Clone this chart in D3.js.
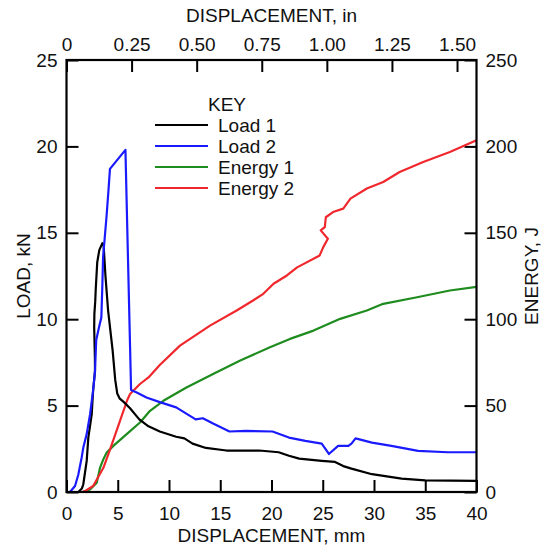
<!DOCTYPE html>
<html>
<head>
<meta charset="utf-8">
<script src="https://cdn.jsdelivr.net/npm/d3@7"></script>
<style>
  html, body { margin: 0; padding: 0; background: #fff; }
  svg text { font-family: "Liberation Sans", Arial, Helvetica, sans-serif; fill: #111; }
</style>
</head>
<body>
<svg id="chart" width="545" height="554"></svg>
<script>
// ---------- data ----------
const seriesNames = ["Load 1", "Load 2", "Energy 1", "Energy 2"];
const seriesColors = ["#000000", "#1a1aff", "#1e8c1e", "#f0282d"];

// [displacement mm, load kN]
const load1 = [[1.15,0],[1.5,0.2],[1.64,0.45],[1.97,1.8],[2.13,3.15],[2.46,4.5],[2.6,5.9],[2.78,7.0],[2.77,7.8],[2.7,9.5],[2.72,10.3],[2.8,11.0],[2.85,11.7],[3.0,13.3],[3.2,14.0],[3.5,14.4],[3.62,14.3],[3.8,12.5],[4.06,10.5],[4.5,8.2],[4.75,6.5],[4.95,5.7],[5.2,5.4],[5.6,5.2],[6.2,4.85],[7.1,4.2],[8.0,3.8],[9.1,3.5],[10.7,3.2],[11.5,3.1],[12.3,2.8],[13.6,2.55],[15.6,2.4],[18.8,2.4],[20.7,2.3],[21.7,2.1],[22.7,1.93],[24.9,1.8],[26.2,1.74],[27.0,1.5],[27.8,1.35],[29.8,1.03],[32.7,0.77],[35,0.67],[40,0.64]];
const load2 = [[0.34,0],[0.83,0.35],[1.15,1.0],[1.48,2.0],[1.64,2.57],[1.97,3.35],[2.3,4.5],[2.6,5.9],[2.78,7.0],[2.9,8.8],[3.2,9.6],[3.4,10.1],[3.5,12.0],[3.57,13.6],[3.9,15.9],[4.1,17.5],[4.24,18.7],[5.75,19.8],[6.3,5.9],[6.85,5.76],[7.8,5.47],[9.1,5.2],[10.7,4.9],[12.6,4.2],[13.3,4.27],[14.3,3.96],[15.9,3.5],[17.5,3.54],[20.1,3.5],[21.7,3.15],[23.3,2.96],[24.9,2.8],[25.6,2.2],[26.5,2.67],[27.5,2.67],[27.8,2.8],[28.2,3.1],[29.8,2.86],[31.7,2.67],[34.3,2.38],[37.2,2.3],[40,2.3]];
// [displacement mm, energy J]
const energy1 = [[1.6,0],[2.3,1.5],[2.95,5.4],[3.27,14],[3.6,19],[3.92,22.8],[4.57,26.7],[5.87,33.5],[7.17,40.2],[8.15,47],[9.45,52.8],[11.7,60.5],[14.3,68.3],[16.9,76],[19.85,83.7],[21.8,88.6],[24.1,93.4],[26.7,100.2],[29.3,105],[30.9,108.9],[34.2,112.7],[37.4,116.6],[40,118.7]];
const energy2 = [[1.5,0],[1.8,0.5],[2.6,3.5],[3.6,14],[4.2,23.8],[5.05,38.3],[5.9,52.8],[6.2,56.7],[7.17,62.5],[8.0,66.3],[9.1,73.5],[11.07,84.7],[14.0,96.3],[16.6,105],[18.2,110.8],[19.2,114.7],[20.2,120.5],[21.5,125.3],[22.5,130],[24.7,136.9],[25.05,141.7],[25.5,146.6],[24.8,151.4],[25.2,153.3],[25.3,159],[26.0,162],[27.0,164],[27.7,169.8],[29.3,175.6],[30.9,179.4],[32.5,185.2],[34.8,191],[37.4,196.8],[40,203.6]];

const mmTicks = [0,5,10,15,20,25,30,35,40];
const inTicks = [0,0.25,0.5,0.75,1.0,1.25,1.5];
const loadTicks = [0,5,10,15,20,25];
const energyTicks = [0,50,100,150,200,250];

// ---------- layout ----------
const L = 66.5, R = 476.5, T = 60, B = 492;
const svg = d3.select("#chart");

const x = d3.scaleLinear().domain([0,40]).range([L,R]);
const xIn = d3.scaleLinear().domain([0,40/25.4]).range([L,R]);
const yL = d3.scaleLinear().domain([0,25]).range([B,T]);
const yE = d3.scaleLinear().domain([0,250]).range([B,T]);

const fs = 19;
function styleAxis(g){
  g.select(".domain").remove();
  g.selectAll(".tick line").attr("stroke","#000").attr("stroke-width",2);
  g.selectAll(".tick text").attr("font-size",fs).attr("fill","#111")
    .attr("font-family",'"Liberation Sans", Arial, sans-serif');
}

svg.append("g").attr("transform",`translate(0,${B})`)
  .call(d3.axisBottom(x).tickValues(mmTicks).tickSize(-12).tickPadding(15).tickFormat(d3.format("d")))
  .call(styleAxis);
svg.append("g").attr("transform",`translate(0,${T})`)
  .call(d3.axisTop(xIn).tickValues(inTicks).tickSize(-12).tickPadding(9)
    .tickFormat(d => d === 0 ? "0" : d3.format(".2f")(d)))
  .call(styleAxis);
svg.append("g").attr("transform",`translate(${L},0)`)
  .call(d3.axisLeft(yL).tickValues(loadTicks).tickSize(-12).tickPadding(9).tickFormat(d3.format("d")))
  .call(styleAxis);
svg.append("g").attr("transform",`translate(${R},0)`)
  .call(d3.axisRight(yE).tickValues(energyTicks).tickSize(-12).tickPadding(9).tickFormat(d3.format("d")))
  .call(styleAxis);

// ---------- lines ----------
const lineL = d3.line().x(d => x(d[0])).y(d => yL(d[1]));
const lineE = d3.line().x(d => x(d[0])).y(d => yE(d[1]));
const clip = svg.append("clipPath").attr("id","clip").append("rect")
  .attr("x",L).attr("y",T).attr("width",R-L).attr("height",B-T);
const plot = svg.append("g").attr("clip-path","url(#clip)");
const drawn = [[energy1,lineE,2],[energy2,lineE,3],[load1,lineL,0],[load2,lineL,1]];
drawn.forEach(([data,gen,ci]) => {
  plot.append("path").attr("d",gen(data)).attr("fill","none")
    .attr("stroke",seriesColors[ci]).attr("stroke-width",2.2)
    .attr("stroke-linejoin","round").attr("stroke-linecap","round");
});

// frame
svg.append("rect").attr("x",L).attr("y",T).attr("width",R-L).attr("height",B-T)
  .attr("fill","none").attr("stroke","#000").attr("stroke-width",2.2);

// ---------- titles ----------
svg.append("text").attr("x",(L+R)/2).attr("y",542).attr("text-anchor","middle")
  .attr("font-size",fs).text("DISPLACEMENT, mm");
svg.append("text").attr("x",(L+R)/2).attr("y",22).attr("text-anchor","middle")
  .attr("font-size",fs).text("DISPLACEMENT, in");
svg.append("text").attr("transform",`translate(30,${(T+B)/2}) rotate(-90)`)
  .attr("text-anchor","middle").attr("font-size",fs).text("LOAD, kN");
svg.append("text").attr("transform",`translate(538,${(T+B)/2}) rotate(-90)`)
  .attr("text-anchor","middle").attr("font-size",fs).text("ENERGY, J");

// ---------- legend ----------
const leg = svg.append("g");
leg.append("text").attr("x",208).attr("y",111).attr("font-size",fs).text("KEY");
seriesNames.forEach((n,i) => {
  const yy = 125 + i*21;
  leg.append("line").attr("x1",155).attr("x2",208).attr("y1",yy).attr("y2",yy)
    .attr("stroke",seriesColors[i]).attr("stroke-width",2.2);
  leg.append("text").attr("x",218).attr("y",yy+7).attr("font-size",fs).text(n);
});
</script>
</body>
</html>
